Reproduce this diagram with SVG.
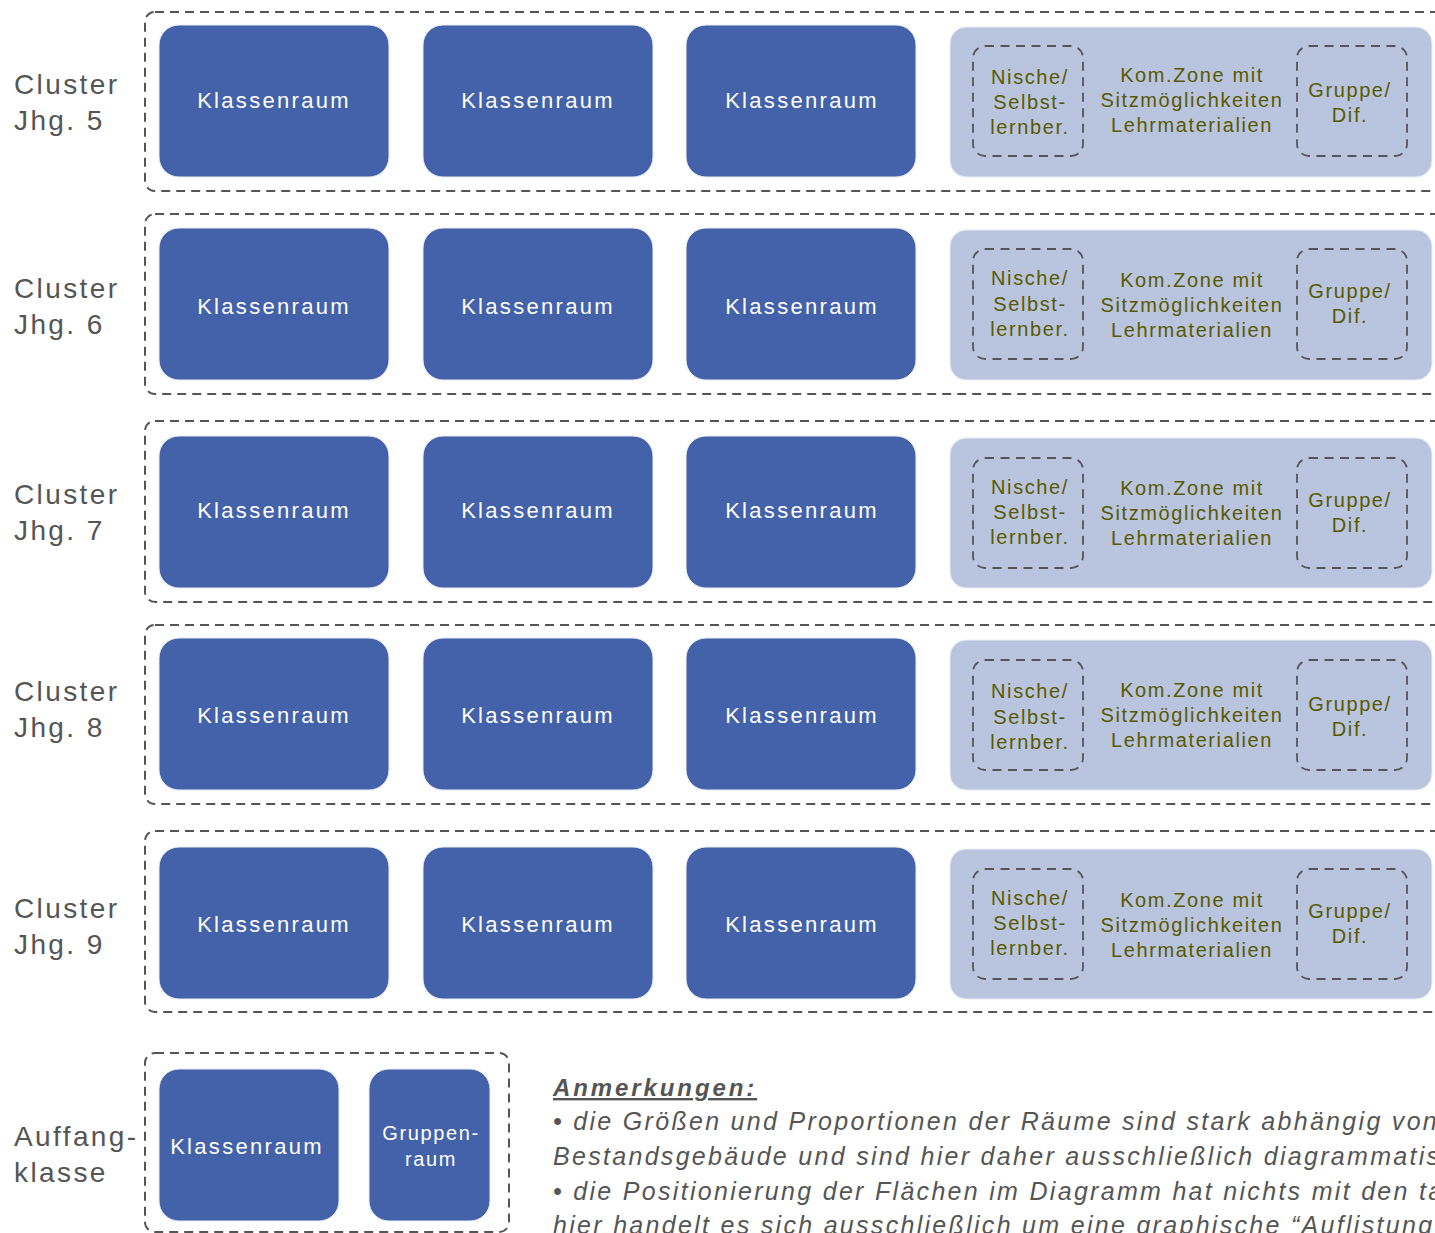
<svg xmlns="http://www.w3.org/2000/svg" width="1435" height="1233" viewBox="0 0 1435 1233">
<style>
.cl{fill:none;stroke:#555;stroke-width:2;stroke-dasharray:9 6}
.in{fill:none;stroke:#555;stroke-width:1.8;stroke-dasharray:9 6.5}
.room{fill:#4462AA;stroke:#e8ecf6;stroke-width:1}
.zone{fill:#B9C4DF;stroke:#e8ecf6;stroke-width:1}
.lbl{font-family:"Liberation Sans",Arial,sans-serif;font-size:28px;fill:#555;letter-spacing:2.4px}
.rt{font-family:"Liberation Sans",Arial,sans-serif;font-size:22px;fill:#fff;letter-spacing:2.3px;text-anchor:middle}
.gt{font-family:"Liberation Sans",Arial,sans-serif;font-size:20px;fill:#fff;letter-spacing:1.6px;text-anchor:middle}
.zt{font-family:"Liberation Sans",Arial,sans-serif;font-size:20px;fill:#595900;letter-spacing:1.6px;text-anchor:middle}
.an{font-family:"Liberation Sans",Arial,sans-serif;font-size:25px;fill:#555;font-style:italic;letter-spacing:2.3px}
.ah{font-family:"Liberation Sans",Arial,sans-serif;font-size:24px;fill:#555;font-style:italic;font-weight:bold;letter-spacing:2.9px;text-decoration:underline}
</style>
<rect width="1435" height="1233" fill="#fff"/>

<g id="cluster5">
<rect class="cl" x="145" y="12" width="1320" height="179" rx="10"/>
<text class="lbl" x="14" y="94">Cluster</text><text class="lbl" x="14" y="130">Jhg. 5</text>
<rect class="room" x="159" y="25" width="230" height="152" rx="20"/><text class="rt" x="274" y="108">Klassenraum</text>
<rect class="room" x="423" y="25" width="230" height="152" rx="20"/><text class="rt" x="538" y="108">Klassenraum</text>
<rect class="room" x="686" y="25" width="230" height="152" rx="20"/><text class="rt" x="802" y="108">Klassenraum</text>
<rect class="zone" x="950" y="27" width="482" height="150" rx="16"/>
<rect class="in" x="973" y="46" width="110" height="110" rx="12"/>
<rect class="in" x="1297" y="46" width="110" height="110" rx="12"/>
<text class="zt" x="1030" y="84">Nische/</text><text class="zt" x="1030" y="109">Selbst-</text><text class="zt" x="1030" y="134">lernber.</text>
<text class="zt" x="1192" y="82">Kom.Zone mit</text><text class="zt" x="1192" y="107">Sitzmöglichkeiten</text><text class="zt" x="1192" y="132">Lehrmaterialien</text>
<text class="zt" x="1350" y="97">Gruppe/</text><text class="zt" x="1350" y="122">Dif.</text>
</g>

<g id="cluster6">
<rect class="cl" x="145" y="214" width="1320" height="180" rx="10"/>
<text class="lbl" x="14" y="298">Cluster</text><text class="lbl" x="14" y="334">Jhg. 6</text>
<rect class="room" x="159" y="228" width="230" height="152" rx="20"/><text class="rt" x="274" y="314">Klassenraum</text>
<rect class="room" x="423" y="228" width="230" height="152" rx="20"/><text class="rt" x="538" y="314">Klassenraum</text>
<rect class="room" x="686" y="228" width="230" height="152" rx="20"/><text class="rt" x="802" y="314">Klassenraum</text>
<rect class="zone" x="950" y="230" width="482" height="150" rx="16"/>
<rect class="in" x="973" y="249" width="110" height="110" rx="12"/>
<rect class="in" x="1297" y="249" width="110" height="110" rx="12"/>
<text class="zt" x="1030" y="285">Nische/</text><text class="zt" x="1030" y="311">Selbst-</text><text class="zt" x="1030" y="336">lernber.</text>
<text class="zt" x="1192" y="287">Kom.Zone mit</text><text class="zt" x="1192" y="312">Sitzmöglichkeiten</text><text class="zt" x="1192" y="337">Lehrmaterialien</text>
<text class="zt" x="1350" y="298">Gruppe/</text><text class="zt" x="1350" y="323">Dif.</text>
</g>

<g id="cluster7">
<rect class="cl" x="145" y="421" width="1320" height="181" rx="10"/>
<text class="lbl" x="14" y="504">Cluster</text><text class="lbl" x="14" y="540">Jhg. 7</text>
<rect class="room" x="159" y="436" width="230" height="152" rx="20"/><text class="rt" x="274" y="518">Klassenraum</text>
<rect class="room" x="423" y="436" width="230" height="152" rx="20"/><text class="rt" x="538" y="518">Klassenraum</text>
<rect class="room" x="686" y="436" width="230" height="152" rx="20"/><text class="rt" x="802" y="518">Klassenraum</text>
<rect class="zone" x="950" y="438" width="482" height="150" rx="16"/>
<rect class="in" x="973" y="458" width="110" height="110" rx="12"/>
<rect class="in" x="1297" y="458" width="110" height="110" rx="12"/>
<text class="zt" x="1030" y="494">Nische/</text><text class="zt" x="1030" y="519">Selbst-</text><text class="zt" x="1030" y="544">lernber.</text>
<text class="zt" x="1192" y="495">Kom.Zone mit</text><text class="zt" x="1192" y="520">Sitzmöglichkeiten</text><text class="zt" x="1192" y="545">Lehrmaterialien</text>
<text class="zt" x="1350" y="507">Gruppe/</text><text class="zt" x="1350" y="532">Dif.</text>
</g>

<g id="cluster8">
<rect class="cl" x="145" y="625" width="1320" height="179" rx="10"/>
<text class="lbl" x="14" y="701">Cluster</text><text class="lbl" x="14" y="737">Jhg. 8</text>
<rect class="room" x="159" y="638" width="230" height="152" rx="20"/><text class="rt" x="274" y="723">Klassenraum</text>
<rect class="room" x="423" y="638" width="230" height="152" rx="20"/><text class="rt" x="538" y="723">Klassenraum</text>
<rect class="room" x="686" y="638" width="230" height="152" rx="20"/><text class="rt" x="802" y="723">Klassenraum</text>
<rect class="zone" x="950" y="640" width="482" height="150" rx="16"/>
<rect class="in" x="973" y="660" width="110" height="110" rx="12"/>
<rect class="in" x="1297" y="660" width="110" height="110" rx="12"/>
<text class="zt" x="1030" y="698">Nische/</text><text class="zt" x="1030" y="724">Selbst-</text><text class="zt" x="1030" y="749">lernber.</text>
<text class="zt" x="1192" y="697">Kom.Zone mit</text><text class="zt" x="1192" y="722">Sitzmöglichkeiten</text><text class="zt" x="1192" y="747">Lehrmaterialien</text>
<text class="zt" x="1350" y="711">Gruppe/</text><text class="zt" x="1350" y="736">Dif.</text>
</g>

<g id="cluster9">
<rect class="cl" x="145" y="831" width="1320" height="181" rx="10"/>
<text class="lbl" x="14" y="918">Cluster</text><text class="lbl" x="14" y="954">Jhg. 9</text>
<rect class="room" x="159" y="847" width="230" height="152" rx="20"/><text class="rt" x="274" y="932">Klassenraum</text>
<rect class="room" x="423" y="847" width="230" height="152" rx="20"/><text class="rt" x="538" y="932">Klassenraum</text>
<rect class="room" x="686" y="847" width="230" height="152" rx="20"/><text class="rt" x="802" y="932">Klassenraum</text>
<rect class="zone" x="950" y="849" width="482" height="150" rx="16"/>
<rect class="in" x="973" y="869" width="110" height="110" rx="12"/>
<rect class="in" x="1297" y="869" width="110" height="110" rx="12"/>
<text class="zt" x="1030" y="905">Nische/</text><text class="zt" x="1030" y="930">Selbst-</text><text class="zt" x="1030" y="955">lernber.</text>
<text class="zt" x="1192" y="907">Kom.Zone mit</text><text class="zt" x="1192" y="932">Sitzmöglichkeiten</text><text class="zt" x="1192" y="957">Lehrmaterialien</text>
<text class="zt" x="1350" y="918">Gruppe/</text><text class="zt" x="1350" y="943">Dif.</text>
</g>

<g id="auffangklasse">
<rect class="cl" x="145" y="1053" width="364" height="179" rx="10"/>
<text class="lbl" x="14" y="1146">Auffang-</text><text class="lbl" x="14" y="1182">klasse</text>
<rect class="room" x="159" y="1069" width="180" height="152" rx="20"/><text class="rt" x="247" y="1154">Klassenraum</text>
<rect class="room" x="369" y="1069" width="121" height="152" rx="20"/><text class="gt" x="431" y="1140">Gruppen-</text><text class="gt" x="431" y="1166">raum</text>
</g>

<g id="anmerkungen">
<text class="ah" x="553" y="1096">Anmerkungen:</text>
<text class="an" x="553" y="1130">• die Größen und Proportionen der Räume sind stark abhängig von</text>
<text class="an" x="553" y="1165">Bestandsgebäude und sind hier daher ausschließlich diagrammatisch</text>
<text class="an" x="553" y="1200">• die Positionierung der Flächen im Diagramm hat nichts mit den ta</text>
<text class="an" x="553" y="1234">hier handelt es sich ausschließlich um eine graphische “Auflistung</text>
</g>
<g id="connectors"></g>
</svg>
